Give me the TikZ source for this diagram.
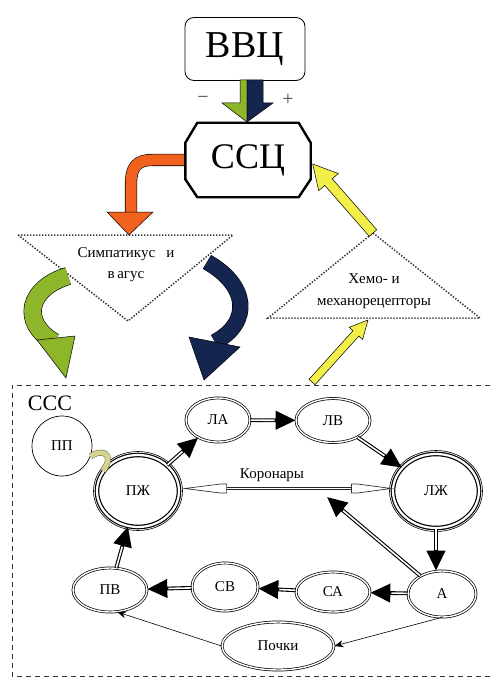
\documentclass[tikz,border=0pt]{standalone}
\usepackage{fontspec}
\setmainfont{Liberation Serif}
\usetikzlibrary{arrows.meta,calc,shapes.geometric}

\definecolor{cgreen}{HTML}{8DB62A}
\definecolor{cnavy}{HTML}{14264F}
\definecolor{corange}{HTML}{F0621E}
\definecolor{cyellow}{HTML}{F2EE4A}
\definecolor{ckhaki}{HTML}{D6D48C}
\definecolor{cline}{HTML}{333333}

\newcommand{\blockarr}[6]{%
  \coordinate (ba-a) at (#2);
  \coordinate (ba-b) at (#3);
  \coordinate (ba-h) at ($(ba-b)!#6!(ba-a)$);
  \filldraw[fill=#1, draw=black, line width=0.5pt, line join=miter]
    ($(ba-a)!#4!90:(ba-b)$) -- ($(ba-h)!#4!90:(ba-b)$) -- ($(ba-h)!#5!90:(ba-b)$) -- (ba-b)
    -- ($(ba-h)!#5!-90:(ba-b)$) -- ($(ba-h)!#4!-90:(ba-b)$) -- ($(ba-a)!#4!-90:(ba-b)$) -- cycle;
}
% double-line connector with a solid black head
\newcommand{\dblarrow}[2]{%
  \draw[dblout] #1 -- #2;
  \draw[dblin] #1 -- #2;
}

\begin{document}
\begin{tikzpicture}[x=1pt,y=-1pt,
  organ/.style={ellipse, draw, line width=0.7pt, double, double distance=1.4pt, inner sep=0pt,
    font=\fontsize{15}{18}\selectfont},
  ventricle/.style={organ, line width=1.2pt, double distance=2.2pt},
  dblout/.style={draw=black, line width=3.8pt, -{Triangle[length=20pt,width=18pt]}},
  dblin/.style={draw=white, line width=1.6pt, shorten >=21pt, shorten <=0.4pt},
  thinarr/.style={line width=0.6pt, -{Stealth[length=9pt,width=7pt]}},
  dotline/.style={line width=1.5pt, cline, dash pattern=on 1.4pt off 1.6pt},
  txt/.style={font=\fontsize{15}{21}\selectfont, align=center, inner sep=0pt},
  korhead/.style={fill=white, draw=black!80, line width=0.7pt, line join=miter}
]
\useasboundingbox (0,0) rectangle (490,679);
\fill[white] (0,0) rectangle (490,679);

% ---------- top part ----------
\node[draw, rounded corners=9pt, line width=0.8pt, minimum width=120pt, minimum height=63pt,
  font=\fontsize{38}{40}\selectfont] (vvc) at (245,49) {ВВЦ};

\node[minimum width=125pt, minimum height=74pt, inner sep=0pt,
  font=\fontsize{36}{38}\selectfont] (ssc) at (248,160) {ССЦ};

% minus / plus
\node[font=\fontsize{20}{22}\selectfont, text=black!70] (minus) at (203,100) {−};
\node[font=\fontsize{20}{22}\selectfont, text=black!70] (plus) at (288,100) {+};

% split green/navy down arrow from ВВЦ to ССЦ
\coordinate (tip) at (247,122);
\filldraw[fill=cgreen, draw=black, line width=0.5pt] (240,80) -- (247,80) -- (tip) -- (222,103) -- (240,103) -- cycle;
\filldraw[fill=cnavy, draw=black, line width=0.5pt] (247,80) -- (263,80) -- (263,103) -- (273,103) -- (tip) -- cycle;

% orange arrow from ССЦ to sympathicus
\draw[draw=black, line width=0.6pt, double=corange, double distance=11pt]
  (ssc.west) -- (152,160) .. controls (136,160) and (131,168) .. (131,184) -- (131,213);
\filldraw[fill=corange, draw=black, line width=0.5pt] (107,212) -- (153,212) -- (129,235) -- cycle;

% octagon of ССЦ
\draw[line width=2.4pt, line join=miter]
  ($(ssc.north west)+(12,0)$) -- ($(ssc.north east)+(-12,0)$) -- ($(ssc.north east)+(0,20)$)
  -- ($(ssc.south east)+(0,-18)$) -- ($(ssc.south east)+(-12,0)$) -- ($(ssc.south west)+(12,0)$)
  -- ($(ssc.south west)+(0,-18)$) -- ($(ssc.north west)+(0,20)$) -- cycle;

% inverted triangle: Симпатикус и вагус
\coordinate (tl1) at (18,235);
\coordinate (tl2) at (233,235);
\coordinate (tl3) at (128,321);
\draw[dotline] (tl1) -- (tl2) -- (tl3) -- cycle;
\node[txt] (symp) at (126,265) {Симпатикус\ \ \ и\\в\,агус};

% upright triangle: Хемо- и механорецепторы
\coordinate (tr1) at (373,233);
\coordinate (tr2) at (480,318);
\coordinate (tr3) at (268,318);
\draw[dotline] (tr1) -- (tr2) -- (tr3) -- cycle;
\node[txt, font=\fontsize{15}{22}\selectfont] (hemo) at (374,291) {Хемо- и\\механорецепторы};

% yellow arrows
\coordinate (sscin) at ($(ssc.east)+(2,4)$);
\blockarr{cyellow}{tr1}{sscin}{5pt}{13pt}{24pt}
\coordinate (cssout) at (312,382);
\coordinate (trbase) at (368,320);
\blockarr{cyellow}{cssout}{trbase}{4pt}{9pt}{18pt}

% green curved arrow
\draw[draw=black, line width=0.6pt, double=cgreen, double distance=17pt]
  (68,276) .. controls (28,288) and (20,322) .. (54,342);
\filldraw[fill=cgreen, draw=black, line width=0.5pt] (37,340) -- (75,336) -- (66,378) -- cycle;

% navy curved arrow
\draw[draw=black, line width=0.6pt, double=cnavy, double distance=15pt]
  (207,262) .. controls (248,285) and (252,322) .. (215,342);
\filldraw[fill=cnavy, draw=black, line width=0.5pt] (189,337) -- (240,347) -- (204,380) -- cycle;

% ---------- lower frame ----------
\draw[cline, line width=0.8pt, dash pattern=on 5pt off 4pt] (490,385) -- (12,385) -- (12,676) -- (490,676);
\node[font=\fontsize{22}{24}\selectfont, inner sep=0pt] (ccc) at (50,403) {ССС};

\node[circle, draw, line width=0.7pt, minimum size=60pt, inner sep=0pt,
  font=\fontsize{15}{18}\selectfont] (pp) at (62,446) {ПП};

\node[ventricle, minimum width=82pt, minimum height=72pt] (pzh) at (138,491) {ПЖ};
\node[ventricle, minimum width=86pt, minimum height=74pt] (lzh) at (436,491) {ЛЖ};
\draw[line width=0.6pt] (pzh.center) ellipse (44.5pt and 39.5pt);
\draw[line width=0.6pt] (lzh.center) ellipse (46.5pt and 40.5pt);

\node[organ, minimum width=64pt, minimum height=44pt] (la) at (218,420) {ЛА};
\node[organ, minimum width=74pt, minimum height=44pt] (lv) at (333,420.5) {ЛВ};
\node[organ, minimum width=68pt, minimum height=46pt] (a) at (442,594) {А};
\node[organ, minimum width=74pt, minimum height=40pt] (sa) at (333,592) {СА};
\node[organ, minimum width=66pt, minimum height=48pt] (sv) at (225,587) {СВ};
\node[organ, minimum width=74pt, minimum height=44pt] (pv) at (110,590) {ПВ};
\node[organ, minimum width=112pt, minimum height=48pt] (pochki) at (278,646) {Почки};

% khaki hook ПП -> ПЖ
\draw[draw=black!60, line width=0.5pt, double=ckhaki, double distance=5pt]
  (pp.-20) .. controls (100,449) and (116,452) .. (pzh.150);

% circulation arrows
\dblarrow{(pzh)}{(la)}
\dblarrow{(la)}{(lv)}
\dblarrow{(lv)}{(lzh)}
\dblarrow{(lzh.south)}{(lzh.south |- a.north)}
\dblarrow{(a)}{(sa)}
\dblarrow{(sa)}{(sv)}
\dblarrow{(sv)}{(pv)}
\dblarrow{(pv)}{(pzh)}

% Коронары (double-headed, open heads)
\coordinate (korL) at ($(pzh.east)+(5,-2.5)$);
\coordinate (korR) at ($(pzh.east -| lzh.west)+(-1,-2.5)$);
\draw[black!85, line width=3.6pt] ($(korL)+(40,0)$) -- ($(korR)+(-38,0)$);
\draw[white, line width=1.5pt] ($(korL)+(40,0)$) -- ($(korR)+(-38,0)$);
\draw[korhead] (korL) -- ($(korL)+(36,-4.5)$) -- ($(korL)+(42,-4.5)$) -- ($(korL)+(42,4.5)$) -- ($(korL)+(36,4.5)$) -- cycle;
\draw[korhead] (korR) -- ($(korR)+(-34,-4.5)$) -- ($(korR)+(-40,-4.5)$) -- ($(korR)+(-40,4.5)$) -- ($(korR)+(-34,4.5)$) -- cycle;
\node[txt] (kor) at (272,475) {Коронары};

% А -> Коронары
\coordinate (korpt) at (327,497);
\dblarrow{(a.140)}{(korpt)}

% thin arrows
\draw[thinarr] (a.south) -- (pochki.east);
\draw[thinarr] (pochki.west) -- (pv.-72);
\end{tikzpicture}
\end{document}
